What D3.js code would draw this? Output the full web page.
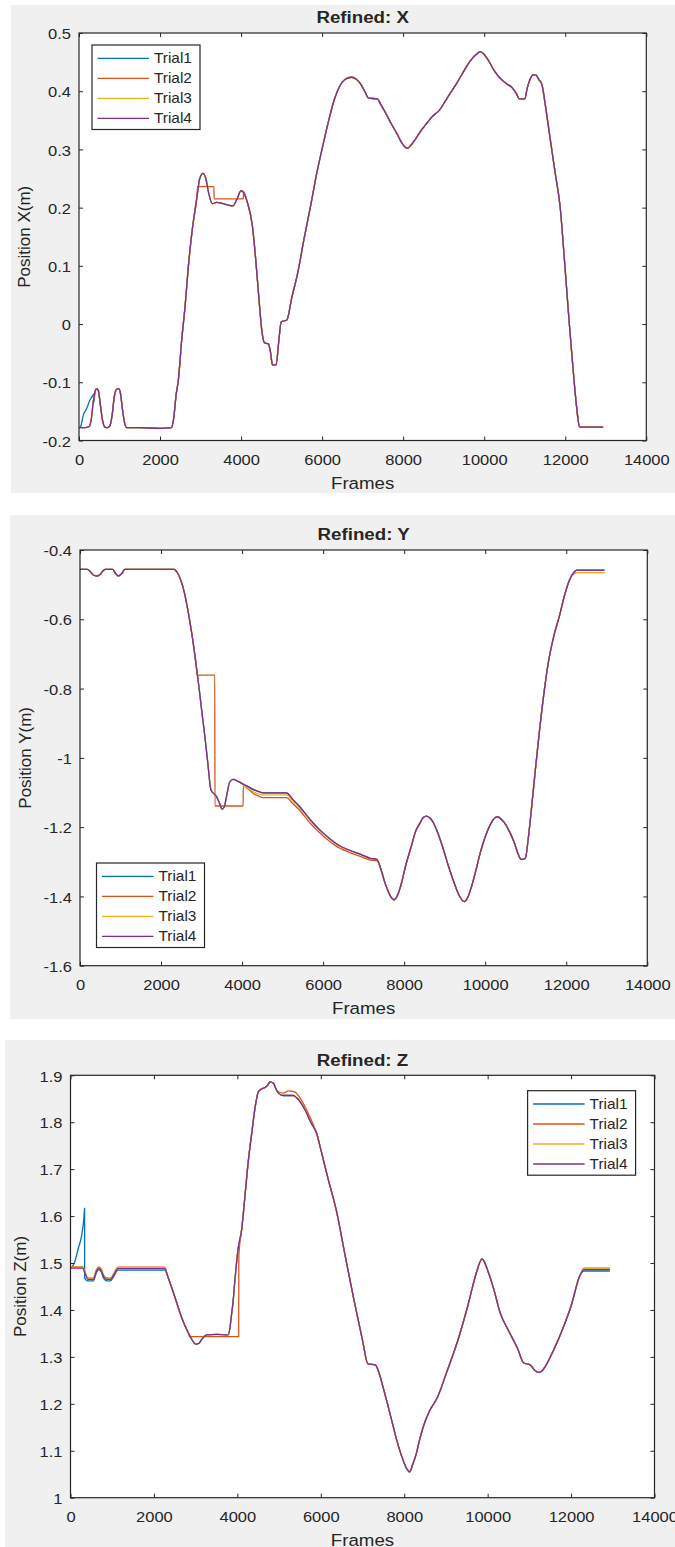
<!DOCTYPE html>
<html>
<head>
<meta charset="utf-8">
<script src="https://cdn.jsdelivr.net/npm/d3@7"></script>
<style>
  html, body { margin: 0; padding: 0; background: #ffffff; }
  svg { display: block; }
  text { font-family: "Liberation Sans", Arial, Helvetica, sans-serif; fill: #262626; }
</style>
</head>
<body>
<svg id="fig" width="675" height="1547"></svg>
<script>
// ---- Series names and colours ----
const trialNames  = ["Trial1", "Trial2", "Trial3", "Trial4"];
const trialColors = ["#0072BD", "#D95319", "#EDB120", "#7E2F8E"];

// ---- Axis ticks ----
const frameTicks = [0, 2000, 4000, 6000, 8000, 10000, 12000, 14000];
const frameTickLabels = ["0", "2000", "4000", "6000", "8000", "10000", "12000", "14000"];
const xPosTicks = [-0.2, -0.1, 0, 0.1, 0.2, 0.3, 0.4, 0.5];
const xPosTickLabels = ["-0.2", "-0.1", "0", "0.1", "0.2", "0.3", "0.4", "0.5"];
const yPosTicks = [-1.6, -1.4, -1.2, -1.0, -0.8, -0.6, -0.4];
const yPosTickLabels = ["-1.6", "-1.4", "-1.2", "-1", "-0.8", "-0.6", "-0.4"];
const zPosTicks = [1.0, 1.1, 1.2, 1.3, 1.4, 1.5, 1.6, 1.7, 1.8, 1.9];
const zPosTickLabels = ["1", "1.1", "1.2", "1.3", "1.4", "1.5", "1.6", "1.7", "1.8", "1.9"];

// ---- Refined X position: track shared by all trials [frame, metres] ----
const xShared = [
  [0,-0.178],[150,-0.178],[250,-0.176],[300,-0.165],[350,-0.135],[400,-0.115],[440,-0.111],
  [480,-0.115],[530,-0.14],[580,-0.165],[640,-0.177],[700,-0.178],[760,-0.175],[820,-0.155],
  [870,-0.125],[930,-0.112],[975,-0.111],[1020,-0.118],[1070,-0.145],[1120,-0.168],[1180,-0.178],
  [1500,-0.178],[2000,-0.179],[2280,-0.178],[2330,-0.165],[2400,-0.12],[2452,-0.096],[2535,-0.027],
  [2617,0.03],[2700,0.1],[2800,0.165],[2900,0.213],[2980,0.25],[3060,0.259],[3130,0.25],
  [3200,0.225],[3290,0.207],[3400,0.209],[3550,0.207],[3700,0.204],[3800,0.203],[3900,0.215],
  [4000,0.229],[4060,0.226],[4150,0.21],[4280,0.168],[4350,0.12],[4444,0.041],[4510,-0.01],
  [4576,-0.032],[4675,-0.034],[4730,-0.05],[4773,-0.07],[4864,-0.07],[4930,-0.03],[4990,0.004],
  [5130,0.007],[5250,0.045],[5395,0.087],[5550,0.145],[5713,0.202],[5870,0.26],[6032,0.311],
  [6170,0.352],[6298,0.385],[6430,0.408],[6563,0.42],[6723,0.424],[6850,0.42],[6935,0.414],
  [7050,0.4],[7148,0.388],[7360,0.387],[7450,0.377],[7572,0.362],[7700,0.345],[7838,0.328],
  [7980,0.31],[8104,0.302],[8200,0.308],[8316,0.319],[8450,0.333],[8582,0.345],[8700,0.355],
  [8900,0.368],[9100,0.39],[9324,0.414],[9500,0.435],[9643,0.451],[9800,0.463],[9908,0.468],
  [10000,0.463],[10120,0.451],[10250,0.435],[10386,0.423],[10550,0.413],[10705,0.405],
  [10800,0.395],[10864,0.387],[11003,0.387],[11060,0.405],[11130,0.42],[11200,0.428],
  [11268,0.428],[11350,0.42],[11427,0.411],[11500,0.38],[11608,0.328],[11750,0.26],[11873,0.202],
  [11980,0.11],[12086,0.013],[12160,-0.05],[12224,-0.102],[12300,-0.155],[12352,-0.177],
  [12600,-0.177],[12936,-0.177]
];
// Segments where an individual trial departs from the shared X track
const xTrial1Start = [[0,-0.178],[40,-0.176],[107,-0.156],[190,-0.145],[272,-0.13],[340,-0.123],[362,-0.12],[366,-0.135]];
const xTrial2Hold  = [[2930,0.236],[3330,0.236],[3335,0.215],[4055,0.215],[4060,0.228]];

// ---- Refined Y position ----
const yShared = [
  [0,-0.456],[180,-0.456],[250,-0.462],[330,-0.472],[415,-0.475],[500,-0.47],[570,-0.46],
  [627,-0.456],[808,-0.456],[860,-0.465],[946,-0.475],[1030,-0.468],[1105,-0.456],[1500,-0.456],
  [2000,-0.456],[2328,-0.456],[2400,-0.465],[2487,-0.487],[2570,-0.52],[2647,-0.564],[2730,-0.62],
  [2806,-0.679],[2870,-0.735],[2934,-0.794],[3000,-0.86],[3072,-0.929],[3150,-1.01],[3232,-1.093],
  [3286,-1.101],[3368,-1.112],[3440,-1.13],[3508,-1.148],[3560,-1.142],[3615,-1.112],[3697,-1.069],
  [3779,-1.062],[3900,-1.068],[4025,-1.076],[4150,-1.083],[4272,-1.091],[4400,-1.097],[4519,-1.101],
  [4800,-1.101],[5094,-1.101],[5250,-1.12],[5423,-1.141],[5676,-1.178],[5916,-1.208],[6150,-1.232],
  [6314,-1.247],[6633,-1.266],[6952,-1.28],[7164,-1.29],[7324,-1.293],[7430,-1.323],[7510,-1.355],
  [7590,-1.381],[7680,-1.403],[7749,-1.41],[7830,-1.398],[7909,-1.372],[8040,-1.31],[8174,-1.256],
  [8290,-1.21],[8387,-1.189],[8470,-1.172],[8546,-1.168],[8620,-1.172],[8706,-1.184],[8840,-1.22],
  [8972,-1.266],[9100,-1.315],[9237,-1.362],[9360,-1.398],[9482,-1.415],[9580,-1.4],[9662,-1.372],
  [9770,-1.325],[9875,-1.275],[10010,-1.225],[10141,-1.189],[10230,-1.174],[10300,-1.17],
  [10400,-1.178],[10513,-1.194],[10620,-1.218],[10725,-1.247],[10820,-1.28],[10885,-1.293],
  [10991,-1.29],[11060,-1.235],[11130,-1.16],[11250,-1.02],[11400,-0.86],[11550,-0.73],
  [11700,-0.645],[11832,-0.59],[11960,-0.53],[12078,-0.487],[12201,-0.463],[12258,-0.458],
  [12941,-0.458]
];
const yTrial2Hold = [
  [2885,-0.755],[2895,-0.761],[3327,-0.761],[3330,-1.139],[4025,-1.139],[4030,-1.081],[4150,-1.09],
  [4272,-1.102],[4400,-1.11],[4519,-1.115],[5094,-1.115],[5250,-1.132],[5423,-1.152],[5676,-1.188],
  [5916,-1.216],[6150,-1.24],[6314,-1.254],[6633,-1.272],[6952,-1.286],[7164,-1.295],[7324,-1.297]
];
const yTrial2End = [[12201,-0.468],[12258,-0.4655],[12941,-0.4655]];
const yTrial3Mid = [
  [4030,-1.08],[4150,-1.087],[4272,-1.097],[4400,-1.104],[4519,-1.107],[5094,-1.107],
  [5250,-1.125],[5423,-1.146]
];
const yTrial3End = [[12201,-0.467],[12258,-0.4645],[12941,-0.4645]];

// ---- Refined Z position ----
const zShared = [
  [0,1.489],[290,1.489],[360,1.475],[420,1.465],[547,1.465],[620,1.482],[676,1.489],[730,1.485],
  [800,1.47],[880,1.465],[960,1.465],[1040,1.475],[1139,1.488],[1500,1.488],[2000,1.488],
  [2258,1.488],[2330,1.472],[2417,1.45],[2500,1.428],[2577,1.407],[2660,1.385],[2737,1.368],
  [2820,1.352],[2896,1.339],[2960,1.33],[3016,1.327],[3080,1.329],[3136,1.336],[3200,1.343],
  [3256,1.347],[3500,1.348],[3776,1.347],[3820,1.36],[3855,1.386],[3900,1.42],[3935,1.457],
  [4015,1.528],[4107,1.574],[4190,1.65],[4262,1.717],[4344,1.776],[4423,1.83],[4503,1.865],
  [4583,1.871],[4663,1.874],[4720,1.878],[4783,1.886],[4863,1.883],[4920,1.872],[4983,1.862],
  [5102,1.857],[5342,1.857],[5420,1.852],[5502,1.844],[5580,1.833],[5662,1.819],[5759,1.8],
  [5902,1.776],[6000,1.742],[6171,1.681],[6378,1.61],[6584,1.516],[6791,1.423],[6997,1.337],
  [7131,1.285],[7307,1.283],[7410,1.262],[7510,1.23],[7616,1.194],[7720,1.158],[7823,1.122],
  [7977,1.079],[8060,1.062],[8132,1.055],[8200,1.07],[8287,1.093],[8360,1.12],[8442,1.147],
  [8597,1.183],[8803,1.215],[9009,1.265],[9267,1.33],[9525,1.409],[9732,1.48],[9866,1.509],
  [9920,1.503],[9990,1.487],[10145,1.445],[10299,1.394],[10506,1.355],[10712,1.319],[10867,1.287],
  [11022,1.283],[11120,1.272],[11228,1.267],[11300,1.27],[11383,1.28],[11589,1.316],[11796,1.359],
  [12002,1.409],[12209,1.473],[12312,1.486],[12931,1.486]
];
const zTrial1Start = [
  [0,1.488],[60,1.495],[100,1.502],[186,1.531],[268,1.559],[320,1.595],[338,1.617],[340,1.468],
  [420,1.462],[547,1.462],[620,1.479],[676,1.486],[730,1.482],[800,1.467],[880,1.462],[960,1.462],
  [1040,1.472],[1139,1.485],[2258,1.485]
];
const zTrial1End = [[12312,1.483],[12931,1.483]];
const zTrial2Start = [
  [0,1.492],[290,1.492],[360,1.478],[420,1.468],[547,1.468],[620,1.485],[676,1.492],[730,1.488],
  [800,1.473],[880,1.468],[960,1.468],[1040,1.478],[1139,1.491],[2258,1.491]
];
const zTrial2Hold = [[2857,1.343],[4032,1.343],[4036,1.516],[4107,1.574]];
const zTrial2Top  = [[4983,1.865],[5102,1.862],[5222,1.867],[5383,1.864],[5502,1.852],[5662,1.826],[5780,1.803]];
const zTrial2End  = [[12312,1.489],[12931,1.489]];
const zTrial3Start = [
  [0,1.491],[290,1.491],[360,1.477],[420,1.467],[547,1.467],[620,1.484],[676,1.491],[730,1.487],
  [800,1.472],[880,1.467],[960,1.467],[1040,1.477],[1139,1.49],[2258,1.49]
];
const zTrial3End = [[12312,1.488],[12931,1.488]];

// Replace the shared track inside each segment's frame span by the segment itself
function trialSeries(shared, segments) {
  let pts = shared.slice();
  segments.forEach(seg => {
    const a = seg[0][0], b = seg[seg.length - 1][0];
    pts = pts.filter(p => p[0] < a || p[0] > b).concat(seg);
  });
  return pts.sort((p, q) => p[0] - q[0]);
}

// ---- Figure layout ----
const TEXT_STRETCH = 1.1;
const panels = [
  {
    bg: [11, 5, 664, 488], box: [79, 33, 646.3, 440.5],
    title: "Refined: X", ylabel: "Position X(m)", ylabelX: 30,
    domain: [-0.2, 0.5], ticks: xPosTicks, tickLabels: xPosTickLabels,
    legend: [92, 45],
    series: [
      trialSeries(xShared, [xTrial1Start]),
      trialSeries(xShared, [xTrial2Hold]),
      trialSeries(xShared, []),
      trialSeries(xShared, [])
    ]
  },
  {
    bg: [10, 515, 665, 504], box: [80, 550, 647.3, 965.7],
    title: "Refined: Y", ylabel: "Position Y(m)", ylabelX: 31,
    domain: [-1.6, -0.4], ticks: yPosTicks, tickLabels: yPosTickLabels,
    legend: [96.5, 863],
    series: [
      trialSeries(yShared, []),
      trialSeries(yShared, [yTrial2Hold, yTrial2End]),
      trialSeries(yShared, [yTrial3Mid, yTrial3End]),
      trialSeries(yShared, [])
    ]
  },
  {
    bg: [5, 1040, 670, 507], box: [70.5, 1075.3, 654.5, 1497.7],
    title: "Refined: Z", ylabel: "Position Z(m)", ylabelX: 25.5,
    domain: [1.0, 1.9], ticks: zPosTicks, tickLabels: zPosTickLabels,
    legend: [527.6, 1090.7],
    series: [
      trialSeries(zShared, [zTrial1Start, zTrial1End]),
      trialSeries(zShared, [zTrial2Start, zTrial2Hold, zTrial2Top, zTrial2End]),
      trialSeries(zShared, [zTrial3Start, zTrial3End]),
      trialSeries(zShared, [])
    ]
  }
];

const svg = d3.select("#fig");
const AXIS_COLOR = "#262626";

function stretchText(sel) {
  sel.each(function () {
    const t = d3.select(this);
    const x = +t.attr("x") || 0;
    t.attr("x", x / TEXT_STRETCH).attr("transform", `scale(${TEXT_STRETCH},1)`);
  });
}

panels.forEach((p, pi) => {
  const [bx0, by0, bx1, by1] = p.box;
  const g = svg.append("g");

  g.append("rect")
    .attr("x", p.bg[0]).attr("y", p.bg[1])
    .attr("width", p.bg[2]).attr("height", p.bg[3])
    .attr("fill", "#f0f0f0");

  const x = d3.scaleLinear().domain([0, 14000]).range([bx0, bx1]);
  const y = d3.scaleLinear().domain(p.domain).range([by1, by0]);

  g.append("rect")
    .attr("x", bx0).attr("y", by0)
    .attr("width", bx1 - bx0).attr("height", by1 - by0)
    .attr("fill", "#ffffff");

  // curves
  const clipId = "clip" + pi;
  g.append("clipPath").attr("id", clipId)
    .append("rect").attr("x", bx0).attr("y", by0)
    .attr("width", bx1 - bx0).attr("height", by1 - by0);

  const line = d3.line().x(d => x(d[0])).y(d => y(d[1])).curve(d3.curveMonotoneX);
  const curves = g.append("g").attr("clip-path", `url(#${clipId})`);
  p.series.forEach((s, i) => {
    curves.append("path")
      .attr("d", line(s))
      .attr("fill", "none")
      .attr("stroke", trialColors[i])
      .attr("stroke-width", 1.3)
      .attr("stroke-linejoin", "round");
  });

  // axes: ticks point inward on all four sides
  const fmtX = d => frameTickLabels[frameTicks.indexOf(d)];
  const fmtY = d => p.tickLabels[p.ticks.indexOf(d)];

  const axB = g.append("g").attr("transform", `translate(0,${by1})`)
    .call(d3.axisBottom(x).tickValues(frameTicks).tickFormat(fmtX).tickSizeInner(-4).tickSizeOuter(0));
  const axT = g.append("g").attr("transform", `translate(0,${by0})`)
    .call(d3.axisTop(x).tickValues(frameTicks).tickFormat("").tickSizeInner(-4).tickSizeOuter(0));
  const axL = g.append("g").attr("transform", `translate(${bx0},0)`)
    .call(d3.axisLeft(y).tickValues(p.ticks).tickFormat(fmtY).tickSizeInner(-4).tickSizeOuter(0));
  const axR = g.append("g").attr("transform", `translate(${bx1},0)`)
    .call(d3.axisRight(y).tickValues(p.ticks).tickFormat("").tickSizeInner(-4).tickSizeOuter(0));

  [axB, axT, axL, axR].forEach(a => {
    a.select(".domain").remove();
    a.selectAll(".tick line").attr("stroke", AXIS_COLOR).attr("stroke-width", 1);
  });
  axT.selectAll(".tick text").remove();
  axR.selectAll(".tick text").remove();

  axB.selectAll(".tick text")
    .attr("y", 24.5).attr("dy", null)
    .attr("font-size", 15).attr("fill", "#262626")
    .style("font-family", '"Liberation Sans", Arial, sans-serif');
  stretchText(axB.selectAll(".tick text"));

  axL.selectAll(".tick text")
    .attr("x", -8).attr("dy", "0.38em")
    .attr("font-size", 15).attr("fill", "#262626")
    .style("font-family", '"Liberation Sans", Arial, sans-serif');
  stretchText(axL.selectAll(".tick text"));

  // box outline
  g.append("rect")
    .attr("x", bx0).attr("y", by0)
    .attr("width", bx1 - bx0).attr("height", by1 - by0)
    .attr("fill", "none").attr("stroke", AXIS_COLOR).attr("stroke-width", 1.2);

  const cx = (bx0 + bx1) / 2;

  // title
  g.append("g").attr("transform", `translate(${cx},${by0 - 9.7})`)
    .append("text")
    .attr("text-anchor", "middle")
    .attr("font-size", 17).attr("font-weight", "bold").attr("fill", "#000")
    .attr("transform", `scale(${TEXT_STRETCH},1)`)
    .text(p.title);

  // x label
  g.append("g").attr("transform", `translate(${cx},${by1 + 48})`)
    .append("text")
    .attr("text-anchor", "middle")
    .attr("font-size", 17)
    .attr("transform", `scale(${TEXT_STRETCH},1)`)
    .text("Frames");

  // y label
  g.append("text")
    .attr("transform", `translate(${p.ylabelX},${(by0 + by1) / 2}) rotate(-90)`)
    .attr("text-anchor", "middle")
    .attr("font-size", 17)
    .text(p.ylabel);

  // legend
  const [lx, ly] = p.legend;
  const lg = g.append("g").attr("transform", `translate(${lx},${ly})`);
  lg.append("rect")
    .attr("width", 108).attr("height", 84.5)
    .attr("fill", "#ffffff").attr("stroke", AXIS_COLOR).attr("stroke-width", 1.2);
  trialNames.forEach((name, i) => {
    const ry = 13.3 + 20 * i;
    lg.append("line")
      .attr("x1", 5.5).attr("x2", 57)
      .attr("y1", ry).attr("y2", ry)
      .attr("stroke", trialColors[i]).attr("stroke-width", 1.3);
    lg.append("g").attr("transform", `translate(62,${ry})`)
      .append("text")
      .attr("dy", "0.36em")
      .attr("font-size", 14)
      .attr("transform", `scale(${TEXT_STRETCH},1)`)
      .text(name);
  });
});
</script>
</body>
</html>
